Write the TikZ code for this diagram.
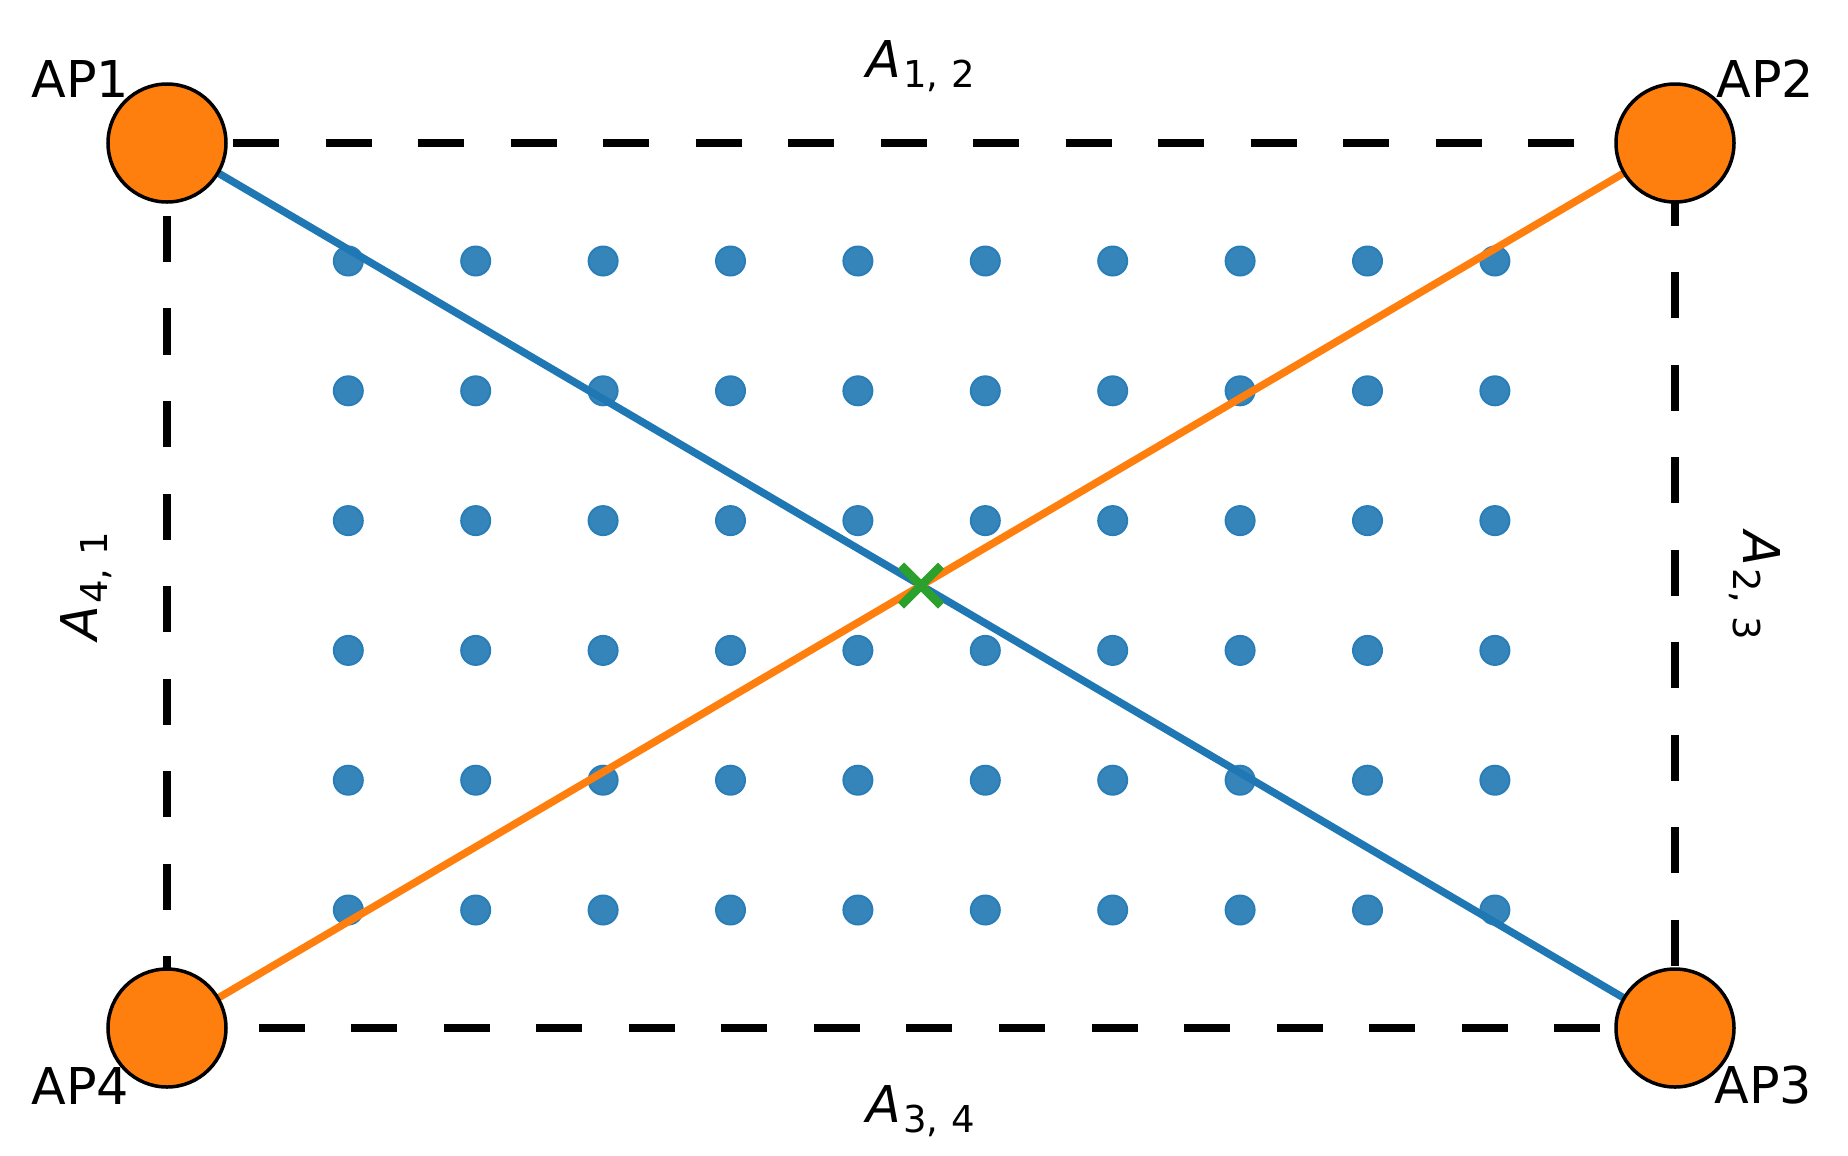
\documentclass[tikz,border=0pt]{standalone}
\usepackage{fontspec}
\setmainfont{DejaVu Sans}
\definecolor{tabblue}{HTML}{1F77B4}
\definecolor{taborange}{HTML}{FF7F0E}
\definecolor{tabgreen}{HTML}{2CA02C}
\definecolor{dotfill}{HTML}{3585BB}
\newcommand{\lbl}[2]{{\itshape A}\hspace{0.6pt}\raisebox{-4pt}{\fontsize{14.8}{16}\selectfont #1,\hspace{5.2pt}#2}}
\begin{document}
\begin{tikzpicture}[x=0.4pt,y=-0.4pt,
  rectside/.style={draw=black,line width=3pt,dash pattern=on 18.4pt off 18.6pt},
  gdot/.style={fill=dotfill,draw=tabblue!95!white,line width=0.8pt},
  bluelink/.style={draw=tabblue,line width=3pt},
  orangelink/.style={draw=taborange,line width=3pt},
  xmark/.style={draw=tabgreen,line width=3.4pt},
  apnode/.style={circle,fill=taborange,draw=black,line width=1.4pt,minimum size=47.2pt,inner sep=0pt},
  aplabel/.style={anchor=base west,inner sep=0pt,font=\fontsize{20.3}{24}\selectfont},
  sidelabel/.style={anchor=base,inner sep=0pt,font=\fontsize{20.3}{24}\selectfont}]
\useasboundingbox (0,0) rectangle (1848,1155);
\fill[white] (0,0) rectangle (1848,1155);
\coordinate (c1) at (167,143);
\coordinate (c2) at (1675,143);
\coordinate (c3) at (1675,1028);
\coordinate (c4) at (167,1028);
\coordinate (mid) at (921,585.5);
% dashed sides
\draw[rectside,dash phase=10.6pt] (c1) -- (c2);
\draw[rectside,dash phase=22.4pt] (c2) -- (c3);
\draw[rectside,dash phase=7pt] (c3) -- (c4);
\draw[rectside,dash phase=26.6pt] (c4) -- (c1);
% grid of points
\foreach \i in {0,...,9}{
  \foreach \j in {0,...,5}{
    \path[gdot] ({348.3+127.4*\i},{261+129.8*\j}) circle (14.5);
  }
}
% links
\draw[bluelink] (c1) -- (c3);
\draw[orangelink] (c4) -- (c2);
% cross mark
\node[inner sep=0pt,minimum size=0pt] (x) at (mid) {};
\draw[xmark] ([shift={(-20,-20)}]x.center) -- ([shift={(20,20)}]x.center);
\draw[xmark] ([shift={(-20,20)}]x.center) -- ([shift={(20,-20)}]x.center);
% access points
\node[apnode] (ap1) at (c1) {};
\node[apnode] (ap2) at (c2) {};
\node[apnode] (ap3) at (c3) {};
\node[apnode] (ap4) at (c4) {};
\node[aplabel] (t1) at (31,97) {AP1};
\node[aplabel] (t2) at (1716,97) {AP2};
\node[aplabel] (t3) at (1714,1103) {AP3};
\node[aplabel] (t4) at (31,1104) {AP4};
% side labels
\node[sidelabel] (s12) at (921,77) {\lbl{1}{2}};
\node[sidelabel] (s34) at (921,1122) {\lbl{3}{4}};
\node[sidelabel,rotate=90] (s41) at (98,586) {\lbl{4}{1}};
\node[sidelabel,rotate=-90] (s23) at (1743,586) {\lbl{2}{3}};
\end{tikzpicture}
\end{document}
